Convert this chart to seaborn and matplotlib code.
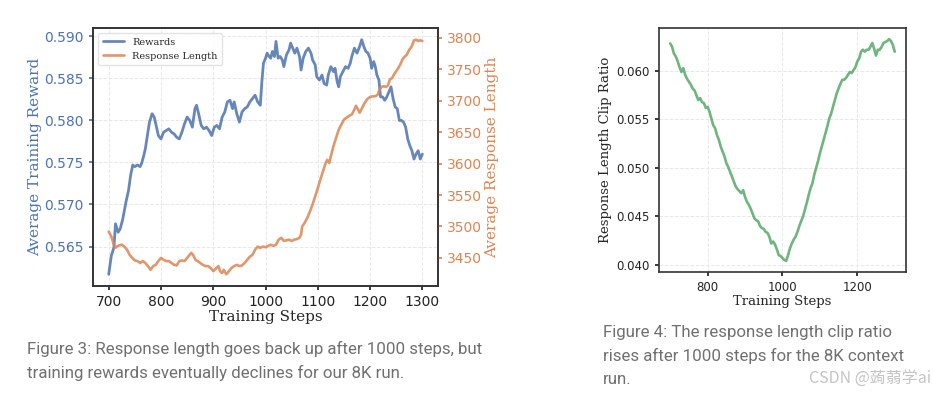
import pandas as pd
import seaborn as sns
import matplotlib.pyplot as plt

# Figure 3: rewards and response length vs training steps
reward_steps = [700, 705, 710, 713, 718, 722, 727, 733, 738, 742, 746, 750, 755, 760, 763, 767,
                770, 775, 778, 783, 787, 790, 795, 800, 805, 810, 815, 820, 825, 830, 835, 840,
                845, 850, 855, 860, 865, 868, 872, 877, 882, 887, 892, 897, 902, 907, 912, 917,
                922, 927, 932, 937, 940, 945, 950, 955, 960, 965, 970, 975, 980, 985, 990, 993,
                996, 1000, 1003, 1007, 1010, 1013, 1017, 1020, 1024, 1028, 1032, 1035, 1040,
                1045, 1048, 1052, 1056, 1060, 1065, 1068, 1072, 1077, 1082, 1087, 1090, 1095,
                1098, 1103, 1108, 1112, 1117, 1120, 1125, 1130, 1133, 1137, 1140, 1143, 1148,
                1153, 1158, 1162, 1165, 1170, 1175, 1180, 1184, 1188, 1192, 1196, 1200, 1203,
                1207, 1210, 1213, 1217, 1220, 1224, 1228, 1232, 1236, 1240, 1244, 1248, 1252,
                1256, 1260, 1264, 1268, 1272, 1276, 1280, 1284, 1288, 1292, 1296, 1300]
rewards = [0.5617, 0.5639, 0.5649, 0.5677, 0.5667, 0.5671, 0.5683, 0.5703, 0.5717, 0.5735,
           0.5747, 0.5745, 0.5747, 0.5745, 0.5749, 0.5758, 0.5766, 0.5786, 0.5798, 0.5808,
           0.5804, 0.5796, 0.5782, 0.5778, 0.5786, 0.5788, 0.5790, 0.5786, 0.5784, 0.5780,
           0.5778, 0.5786, 0.5796, 0.5804, 0.5800, 0.5792, 0.5814, 0.5818, 0.5808, 0.5794,
           0.5790, 0.5792, 0.5788, 0.5782, 0.5792, 0.5794, 0.5790, 0.5804, 0.5810, 0.5822,
           0.5824, 0.5814, 0.5822, 0.5808, 0.5798, 0.5810, 0.5814, 0.5816, 0.5822, 0.5826,
           0.5830, 0.5822, 0.5818, 0.5846, 0.5868, 0.5874, 0.5880, 0.5876, 0.5874, 0.5882,
           0.5876, 0.5894, 0.5874, 0.5876, 0.5872, 0.5864, 0.5878, 0.5884, 0.5892, 0.5886,
           0.5880, 0.5886, 0.5876, 0.5860, 0.5874, 0.5882, 0.5886, 0.5880, 0.5872, 0.5866,
           0.5852, 0.5848, 0.5854, 0.5844, 0.5842, 0.5854, 0.5864, 0.5858, 0.5862, 0.5846,
           0.5840, 0.5852, 0.5858, 0.5864, 0.5862, 0.5868, 0.5876, 0.5886, 0.5880, 0.5888,
           0.5896, 0.5888, 0.5882, 0.5880, 0.5874, 0.5862, 0.5870, 0.5864, 0.5854, 0.5848,
           0.5828, 0.5828, 0.5824, 0.5828, 0.5834, 0.5840, 0.5826, 0.5816, 0.5814, 0.5800,
           0.5800, 0.5798, 0.5792, 0.5778, 0.5770, 0.5764, 0.5754, 0.5760, 0.5764, 0.5754,
           0.5760]

length_steps = [700, 705, 708, 712, 716, 720, 725, 730, 735, 740, 745, 750, 755, 760, 765, 770,
                775, 780, 785, 790, 795, 800, 805, 810, 815, 820, 825, 830, 835, 840, 845, 850,
                855, 858, 862, 866, 870, 875, 880, 885, 890, 895, 900, 905, 910, 913, 917, 920,
                925, 930, 935, 940, 945, 950, 955, 960, 965, 970, 975, 980, 985, 990, 995, 1000,
                1005, 1010, 1015, 1020, 1025, 1030, 1035, 1040, 1045, 1050, 1055, 1060, 1065,
                1068, 1070, 1075, 1080, 1085, 1090, 1095, 1100, 1105, 1110, 1115, 1118, 1122,
                1125, 1130, 1135, 1140, 1145, 1150, 1155, 1160, 1165, 1170, 1173, 1177, 1180,
                1185, 1190, 1195, 1200, 1205, 1210, 1215, 1218, 1222, 1226, 1230, 1234, 1238,
                1242, 1246, 1250, 1254, 1258, 1262, 1266, 1270, 1275, 1280, 1284, 1288, 1292,
                1296, 1300]
resp_length = [3492, 3484, 3476, 3466, 3468, 3470, 3471, 3468, 3463, 3455, 3450, 3446, 3445,
               3442, 3445, 3442, 3437, 3431, 3437, 3439, 3445, 3450, 3447, 3445, 3445, 3442,
               3439, 3438, 3445, 3446, 3445, 3450, 3455, 3458, 3454, 3447, 3445, 3442, 3439,
               3437, 3437, 3434, 3429, 3433, 3437, 3429, 3426, 3431, 3424, 3429, 3434, 3437,
               3439, 3437, 3438, 3442, 3447, 3452, 3455, 3463, 3468, 3466, 3468, 3467, 3469,
               3471, 3469, 3471, 3479, 3482, 3477, 3478, 3479, 3477, 3479, 3480, 3482, 3487,
               3500, 3506, 3514, 3524, 3535, 3548, 3561, 3575, 3588, 3601, 3606, 3601, 3612,
               3628, 3641, 3654, 3662, 3670, 3673, 3676, 3678, 3686, 3692, 3686, 3681, 3689,
               3697, 3703, 3706, 3707, 3707, 3710, 3718, 3722, 3723, 3722, 3724, 3734, 3736,
               3742, 3747, 3752, 3758, 3766, 3770, 3773, 3781, 3787, 3796, 3797, 3795, 3796,
               3795]

# Figure 4: clip ratio, every 5 steps
clip_steps = list(range(700, 1301, 5))
clip_ratio = [0.06285, 0.0625, 0.0618, 0.0615, 0.0610, 0.0604, 0.0599, 0.0603, 0.0596, 0.0592,
              0.0589, 0.0586, 0.0582, 0.0580, 0.0575, 0.0570, 0.0572, 0.0568, 0.0567, 0.0562,
              0.0563, 0.0558, 0.0551, 0.0544, 0.0541, 0.0534, 0.0529, 0.0522, 0.0517, 0.0512,
              0.0505, 0.0501, 0.0496, 0.0491, 0.0486, 0.0481, 0.0478, 0.0476, 0.0474, 0.0477,
              0.0470, 0.0465, 0.0462, 0.0458, 0.0453, 0.0448, 0.0446, 0.0445, 0.0440, 0.0438,
              0.0437, 0.0434, 0.0433, 0.0429, 0.0422, 0.0424, 0.0421, 0.0416, 0.0410, 0.0409,
              0.0407, 0.0405, 0.0404, 0.0410, 0.0417, 0.0422, 0.0426, 0.0429, 0.0434, 0.0440,
              0.0445, 0.0450, 0.0457, 0.0464, 0.0472, 0.0479, 0.0484, 0.0493, 0.0500, 0.0507,
              0.0515, 0.0522, 0.0529, 0.0536, 0.0543, 0.0551, 0.0556, 0.0563, 0.0570, 0.0577,
              0.0582, 0.0587, 0.0591, 0.0591, 0.0593, 0.0596, 0.0599, 0.0598, 0.0601, 0.0604,
              0.0610, 0.0613, 0.0620, 0.0622, 0.0620, 0.0622, 0.0622, 0.0625, 0.0629, 0.0623,
              0.0616, 0.0622, 0.0622, 0.0625, 0.0629, 0.0630, 0.0631, 0.0633, 0.0631, 0.0627,
              0.0620]

caption3 = ["Figure 3: Response length goes back up after 1000 steps, but",
            "training rewards eventually declines for our 8K run."]
caption4 = ["Figure 4: The response length clip ratio",
            "rises after 1000 steps for the 8K context",
            "run."]
watermark = "CSDN @蒟蒻学ai"

sns.set_theme(style="whitegrid", rc={
    "axes.edgecolor": "#333333",
    "axes.linewidth": 1.2,
    "grid.color": "#e8e8e8",
    "grid.linestyle": "--",
    "grid.linewidth": 0.7,
    "xtick.bottom": True,
    "ytick.left": True,
    "xtick.major.size": 3,
    "ytick.major.size": 3,
    "xtick.color": "#222222",
    "ytick.color": "#222222",
})
plt.rcParams["font.family"] = ["DejaVu Sans"]

pal = sns.color_palette("deep")
blue, orange, green = pal[0], pal[1], pal[2]

df_r = pd.DataFrame({"step": reward_steps, "reward": rewards})
df_l = pd.DataFrame({"step": length_steps, "length": resp_length})
df_c = pd.DataFrame({"step": clip_steps, "clip": clip_ratio})

fig = plt.figure(figsize=(9.33, 3.96), dpi=100)
ax = fig.add_axes([0.0997, 0.2778, 0.3698, 0.6515])
ax2 = ax.twinx()

sns.lineplot(data=df_r, x="step", y="reward", ax=ax, color=blue, alpha=0.85, lw=2.0, label="Rewards", legend=False)
sns.lineplot(data=df_l, x="step", y="length", ax=ax2, color=orange, alpha=0.85, lw=1.9, label="Response Length", legend=False)

ax.set_xticks([700, 800, 900, 1000, 1100, 1200, 1300])
ax.set_yticks([0.565, 0.570, 0.575, 0.580, 0.585, 0.590])
ax.set_yticklabels(["0.565", "0.570", "0.575", "0.580", "0.585", "0.590"])
ax2.set_yticks([3450, 3500, 3550, 3600, 3650, 3700, 3750, 3800])
ax2.grid(False)
ax.tick_params(axis="both", labelsize=10)
ax.tick_params(axis="y", colors=blue, labelcolor=blue)
ax.tick_params(axis="x", colors="#222222")
ax2.tick_params(axis="y", labelsize=10, colors=orange, labelcolor=orange, right=True, length=3)
ax.set_xlabel("Training Steps", family="DejaVu Serif", fontsize=11, labelpad=1)
ax.set_ylabel("Average Training Reward", family="DejaVu Serif", fontsize=11, color=blue, labelpad=2)
ax2.set_ylabel("Average Response Length", family="DejaVu Serif", fontsize=11, color=orange, labelpad=2)
for s in ax2.spines.values():
    s.set_edgecolor("#333333")
    s.set_linewidth(1.2)

h1, l1 = ax.get_legend_handles_labels()
h2, l2 = ax2.get_legend_handles_labels()
ax.legend(h1 + h2, l1 + l2, loc="upper left", prop={"family": "DejaVu Serif", "size": 7},
          frameon=True, edgecolor="#dddddd", borderpad=0.5, handlelength=2.2)

axr = fig.add_axes([0.7063, 0.3131, 0.2647, 0.6162])
sns.lineplot(data=df_c, x="step", y="clip", ax=axr, color=green, alpha=0.85, lw=1.9)
axr.set_xticks([800, 1000, 1200])
axr.set_yticks([0.040, 0.045, 0.050, 0.055, 0.060])
axr.set_yticklabels(["0.040", "0.045", "0.050", "0.055", "0.060"])
axr.tick_params(axis="both", labelsize=8.5)
axr.set_xlabel("Training Steps", family="DejaVu Serif", fontsize=9.5, labelpad=1)
axr.set_ylabel("Response Length Clip Ratio", family="DejaVu Serif", fontsize=9.5, labelpad=3)

# captions, one text per line
cap_color = "#707070"
for i, line in enumerate(caption3):
    fig.text(27 / 933, 1 - (349 + 24 * i) / 396, line, fontsize=12.2, family="Roboto",
             color=cap_color, va="center", ha="left")
for i, line in enumerate(caption4):
    fig.text(603 / 933, 1 - (332 + 23.5 * i) / 396, line, fontsize=12.2, family="Roboto",
             color=cap_color, va="center", ha="left")
fig.text(0.998, 1 - 379 / 396, watermark, fontsize=11.5, family=["Noto Sans CJK SC", "DejaVu Sans"],
         color="#c4c4c4", va="center", ha="right")

fig.savefig("out.png", dpi=100)
